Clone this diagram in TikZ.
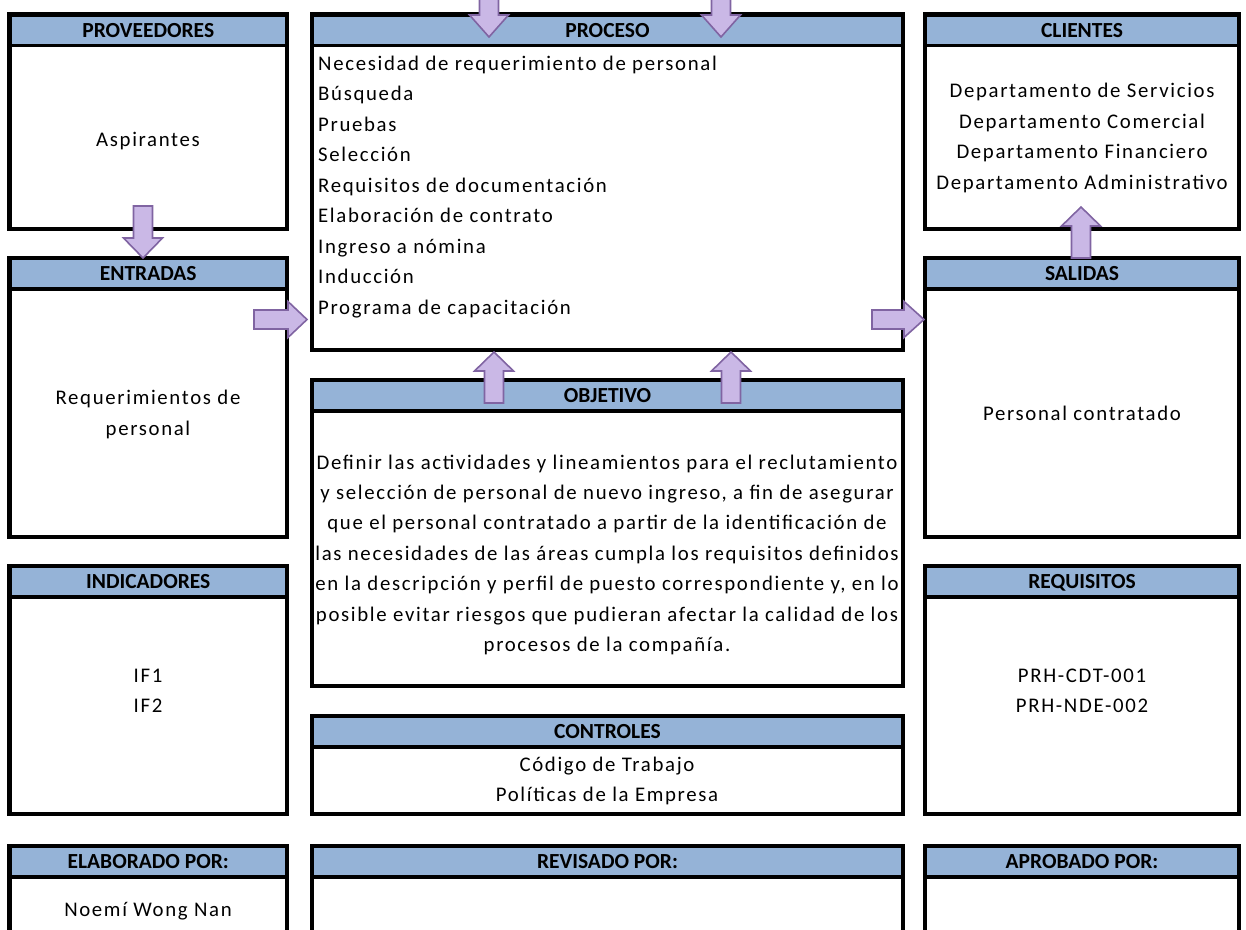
\documentclass[tikz,border=0pt]{standalone}
\usepackage{fontspec}
\setmainfont{Carlito}
\newfontfamily\bodyfont[LetterSpace=8]{Carlito}
\definecolor{hdr}{RGB}{149,179,215}
\definecolor{arrfill}{RGB}{202,184,230}
\definecolor{arrdraw}{RGB}{128,100,162}
\tikzset{
  body/.style={font=\bodyfont\fontsize{20.8}{24}\selectfont, inner sep=0pt},
  hdrtext/.style={font=\bfseries\fontsize{21.5}{24}\selectfont, inner sep=0pt, anchor=base},
  blockarrow/.style={fill=arrfill, draw=arrdraw, line width=1.6pt, line join=miter},
  frame/.style={line width=4.5pt, line join=miter},
  sepline/.style={line width=3.5pt}
}
% name, x1, y1, x2, y2, title
\newcommand\panel[6]{%
  \fill[hdr] (#2,#3) rectangle (#4,#3+31);
  \draw[sepline] (#2,#3+31) -- (#4,#3+31);
  \draw[frame] (#2,#3) rectangle (#4,#5);
  \node[hdrtext] (#1) at ({(#2+#4)/2},#3+22.5) {#6};
}
\newcommand\openpanel[5]{%
  \fill[hdr] (#2,#3) rectangle (#4,#3+31);
  \draw[sepline] (#2,#3+31) -- (#4,#3+31);
  \draw[frame] (#2,940) -- (#2,#3) -- (#4,#3) -- (#4,940);
  \node[hdrtext] (#1) at ({(#2+#4)/2},#3+22.5) {#5};
}
% vertical block arrow: cx, y shaft end, y head base, y tip
\newcommand\varrow[4]{%
  \draw[blockarrow] (#1-9.5,#2) -- (#1-9.5,#3) -- (#1-19.5,#3) -- (#1,#4)
    -- (#1+19.5,#3) -- (#1+9.5,#3) -- (#1+9.5,#2) -- cycle;
}
% horizontal block arrow: cy, x shaft start, x head base, x tip
\newcommand\harrow[4]{%
  \draw[blockarrow] (#2,#1-9.5) -- (#3,#1-9.5) -- (#3,#1-18) -- (#4,#1)
    -- (#3,#1+18) -- (#3,#1+9.5) -- (#2,#1+9.5) -- cycle;
}
\begin{document}
\begin{tikzpicture}[x=1pt,y=-1pt]
\useasboundingbox (0,0) rectangle (1246,929);
\clip (0,0) rectangle (1246,929);

% ---- panels ----
\panel{hprov}{9.5}{14.5}{287}{229}{PROVEEDORES}
\panel{hproc}{312}{14.5}{903}{350}{PROCESO}
\panel{hcli}{925}{14.5}{1239}{229}{CLIENTES}
\panel{hent}{9.5}{258}{287}{537}{ENTRADAS}
\panel{hobj}{312}{380}{903}{686}{OBJETIVO}
\panel{hsal}{925}{258}{1239}{537}{SALIDAS}
\panel{hind}{9.5}{566}{287}{814}{INDICADORES}
\panel{hctl}{312}{716}{903}{814}{CONTROLES}
\panel{hreq}{925}{566}{1239}{814}{REQUISITOS}
\openpanel{helab}{9.5}{846}{287}{ELABORADO POR:}
\openpanel{hrev}{312}{846}{903}{REVISADO POR:}
\openpanel{hapr}{925}{846}{1239}{APROBADO POR:}

% ---- texts ----
\node[body, anchor=base] (asp) at (148,146) {Aspirantes};

\foreach \t [count=\i] in {Necesidad de requerimiento de personal, Búsqueda, Pruebas,
  Selección, Requisitos de documentación, Elaboración de contrato,
  Ingreso a nómina, Inducción, Programa de capacitación}
  \node[body, anchor=base west] (p\i) at (318,{70+30.5*(\i-1)}) {\t};

\foreach \t [count=\i] in {Departamento de Servicios, Departamento Comercial,
  Departamento Financiero, Departamento Administrativo}
  \node[body, anchor=base] (c\i) at (1082,{97.5+30.5*(\i-1)}) {\t};

\node[body, anchor=base] (ent1) at (148,404) {Requerimientos de};
\node[body, anchor=base] (ent2) at (148,435) {personal};
\node[body, anchor=base] (sal1) at (1082,420) {Personal contratado};

\foreach \t [count=\i] in {Definir las actividades y lineamientos para el reclutamiento,
  {y selección de personal de nuevo ingreso, a fin de asegurar},
  que el personal contratado a partir de la identificación de,
  las necesidades de las áreas cumpla los requisitos definidos,
  {en la descripción y perfil de puesto correspondiente y, en lo},
  posible evitar riesgos que pudieran afectar la calidad de los,
  procesos de la compañía.}
  \node[body, anchor=base] (o\i) at (607,{469+30.4*(\i-1)}) {\t};

\node[body, anchor=base] (if1) at (148,682) {IF1};
\node[body, anchor=base] (if2) at (148,712) {IF2};
\node[body, anchor=base] (rq1) at (1082,682) {PRH-CDT-001};
\node[body, anchor=base] (rq2) at (1082,712) {PRH-NDE-002};
\node[body, anchor=base] (ct1) at (607,771) {Código de Trabajo};
\node[body, anchor=base] (ct2) at (607,801) {Políticas de la Empresa};
\node[body, anchor=base] (elab) at (148,916) {Noemí Wong Nan};

% ---- block arrows ----
\varrow{489}{-5}{15}{37}
\varrow{721}{-5}{15}{37}
\varrow{143}{206}{238}{258}
\harrow{319.5}{254}{288}{307}
\harrow{319.5}{872}{904}{924}
\varrow{494}{403}{371}{352}
\varrow{731}{403}{371}{352}
\varrow{1081}{258}{226}{207}
\end{tikzpicture}
\end{document}
